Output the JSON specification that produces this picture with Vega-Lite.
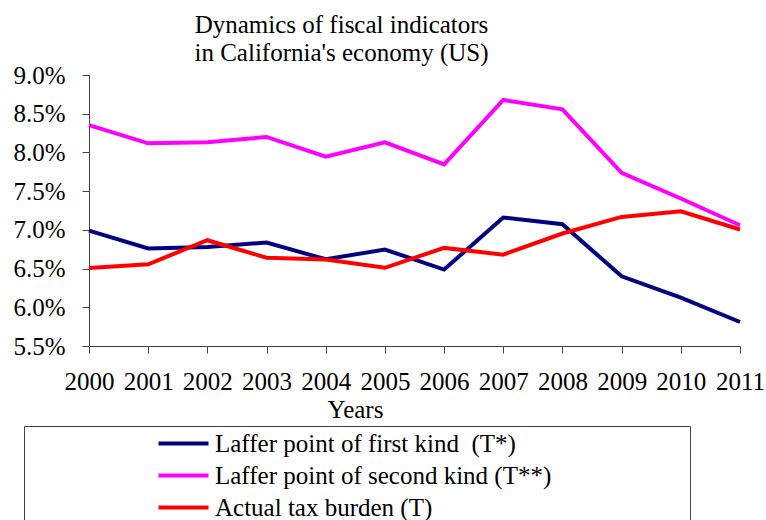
{
  "$schema": "https://vega.github.io/schema/vega-lite/v6.json",
  "width": 651,
  "height": 271,
  "autosize": {"type": "none"},
  "padding": {"left": 89, "top": 75, "right": 26, "bottom": 174},
  "background": "white",
  "config": {"view": {"stroke": null}, "font": "Liberation Serif"},
  "title": {
    "text": ["Dynamics of fiscal indicators", "in California's economy (US)"],
    "fontSize": 25,
    "fontWeight": "normal",
    "font": "Liberation Serif",
    "color": "#000000",
    "anchor": "middle",
    "dx": -73,
    "lineHeight": 28,
    "offset": -3
  },
  "data": {
    "values": [
      {"year": "2000", "series": "Laffer point of first kind\u00a0 (T*)", "value": 0.0699},
      {"year": "2001", "series": "Laffer point of first kind\u00a0 (T*)", "value": 0.0676},
      {"year": "2002", "series": "Laffer point of first kind\u00a0 (T*)", "value": 0.0678},
      {"year": "2003", "series": "Laffer point of first kind\u00a0 (T*)", "value": 0.06836},
      {"year": "2004", "series": "Laffer point of first kind\u00a0 (T*)", "value": 0.0662},
      {"year": "2005", "series": "Laffer point of first kind\u00a0 (T*)", "value": 0.06746},
      {"year": "2006", "series": "Laffer point of first kind\u00a0 (T*)", "value": 0.06487},
      {"year": "2007", "series": "Laffer point of first kind\u00a0 (T*)", "value": 0.0716},
      {"year": "2008", "series": "Laffer point of first kind\u00a0 (T*)", "value": 0.07073},
      {"year": "2009", "series": "Laffer point of first kind\u00a0 (T*)", "value": 0.064},
      {"year": "2010", "series": "Laffer point of first kind\u00a0 (T*)", "value": 0.06125},
      {"year": "2011", "series": "Laffer point of first kind\u00a0 (T*)", "value": 0.0581},
      {"year": "2000", "series": "Laffer point of second kind (T**)", "value": 0.08353},
      {"year": "2001", "series": "Laffer point of second kind (T**)", "value": 0.08117},
      {"year": "2002", "series": "Laffer point of second kind (T**)", "value": 0.0813},
      {"year": "2003", "series": "Laffer point of second kind (T**)", "value": 0.082},
      {"year": "2004", "series": "Laffer point of second kind (T**)", "value": 0.07944},
      {"year": "2005", "series": "Laffer point of second kind (T**)", "value": 0.0813},
      {"year": "2006", "series": "Laffer point of second kind (T**)", "value": 0.07845},
      {"year": "2007", "series": "Laffer point of second kind (T**)", "value": 0.08677},
      {"year": "2008", "series": "Laffer point of second kind (T**)", "value": 0.08556},
      {"year": "2009", "series": "Laffer point of second kind (T**)", "value": 0.07737},
      {"year": "2010", "series": "Laffer point of second kind (T**)", "value": 0.07405},
      {"year": "2011", "series": "Laffer point of second kind (T**)", "value": 0.0706},
      {"year": "2000", "series": "Actual tax burden (T)", "value": 0.06508},
      {"year": "2001", "series": "Actual tax burden (T)", "value": 0.06556},
      {"year": "2002", "series": "Actual tax burden (T)", "value": 0.06866},
      {"year": "2003", "series": "Actual tax burden (T)", "value": 0.0664},
      {"year": "2004", "series": "Actual tax burden (T)", "value": 0.06617},
      {"year": "2005", "series": "Actual tax burden (T)", "value": 0.0651},
      {"year": "2006", "series": "Actual tax burden (T)", "value": 0.06767},
      {"year": "2007", "series": "Actual tax burden (T)", "value": 0.0668},
      {"year": "2008", "series": "Actual tax burden (T)", "value": 0.06953},
      {"year": "2009", "series": "Actual tax burden (T)", "value": 0.07167},
      {"year": "2010", "series": "Actual tax burden (T)", "value": 0.0724},
      {"year": "2011", "series": "Actual tax burden (T)", "value": 0.07005}
    ]
  },
  "mark": {"type": "line", "strokeWidth": 4},
  "encoding": {
    "x": {
      "field": "year",
      "type": "ordinal",
      "scale": {"type": "point", "padding": 0},
      "axis": {
        "labelAngle": 0,
        "labelFont": "Liberation Serif",
        "labelFontSize": 25,
        "labelColor": "#000000",
        "labelPadding": 16,
        "labelOverlap": false,
        "tickSize": 7,
        "tickColor": "#444444",
        "domainColor": "#444444",
        "title": "Years",
        "titleFont": "Liberation Serif",
        "titleFontSize": 25,
        "titleFontWeight": "normal",
        "titleColor": "#000000",
        "titleX": 266,
        "titleY": 51,
        "titleBaseline": "top",
        "grid": false
      }
    },
    "y": {
      "field": "value",
      "type": "quantitative",
      "scale": {"domain": [0.055, 0.09], "nice": false, "zero": false},
      "axis": {
        "values": [0.055, 0.06, 0.065, 0.07, 0.075, 0.08, 0.085, 0.09],
        "format": ".1%",
        "labelFont": "Liberation Serif",
        "labelFontSize": 25,
        "labelColor": "#000000",
        "labelPadding": 17,
        "labelOverlap": false,
        "tickSize": 7,
        "tickColor": "#444444",
        "domainColor": "#444444",
        "title": null,
        "grid": false
      }
    },
    "color": {
      "field": "series",
      "type": "nominal",
      "scale": {
        "domain": ["Laffer point of first kind\u00a0 (T*)", "Laffer point of second kind (T**)", "Actual tax burden (T)"],
        "range": ["#000080", "#FF00FF", "#FF0000"]
      },
      "legend": {
        "orient": "none",
        "legendX": -65,
        "legendY": 351,
        "direction": "vertical",
        "strokeColor": "#444444",
        "fillColor": "#ffffff",
        "padding": 5,
        "symbolType": "M-10,0H10",
        "symbolSize": 25,
        "symbolStrokeWidth": 4,
        "symbolOffset": 142,
        "labelOffset": 19,
        "labelFont": "Liberation Serif",
        "labelFontSize": 25,
        "labelColor": "#000000",
        "labelLimit": 600,
        "rowPadding": 6,
        "title": "\u00a0",
        "titleOrient": "right",
        "titlePadding": 134
      }
    }
  }
}
